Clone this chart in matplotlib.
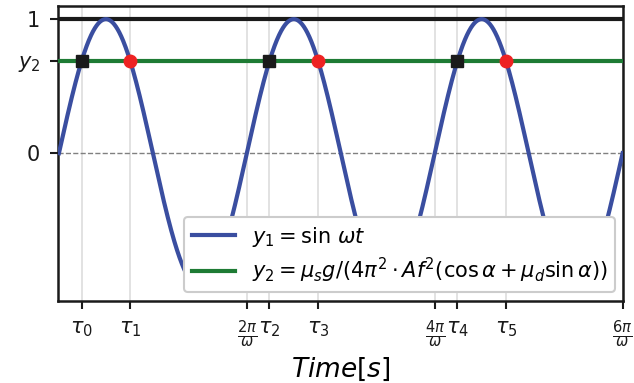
import numpy as np
import matplotlib
matplotlib.use("Agg")
import matplotlib.pyplot as plt

# level of the friction threshold y2 and the crossing phases
y2 = 0.687
tau_up = np.arcsin(y2)            # rising crossing in each period
tau_down = np.pi - np.arcsin(y2)  # falling crossing in each period
periods = [0, 1, 2]

xtick_labels = [r"$\tau_0$", r"$\tau_1$", r"$\frac{2\pi}{\omega}$", r"$\tau_2$", r"$\tau_3$",
                r"$\frac{4\pi}{\omega}$", r"$\tau_4$", r"$\tau_5$", r"$\frac{6\pi}{\omega}$"]

t = np.linspace(0, 6*np.pi, 2000)
y1 = np.sin(t)

fig, ax = plt.subplots(figsize=(6.34, 3.83), dpi=100)

taus_up = [tau_up + 2*np.pi*k for k in periods]
taus_down = [tau_down + 2*np.pi*k for k in periods]
xticks = [taus_up[0], taus_down[0], 2*np.pi, taus_up[1], taus_down[1],
          4*np.pi, taus_up[2], taus_down[2], 6*np.pi]

for xv in xticks:
    ax.axvline(xv, color="#dddddd", lw=1.2, zorder=0)
ax.axhline(0, color="gray", lw=1, ls="--", zorder=1)
ax.axhline(1, color="#1a1a1a", lw=3, zorder=2)

ax.plot(t, y1, color="#3a4ea0", lw=3, label=r"$y_1 = \sin\,\omega t$", zorder=3)
ax.axhline(y2, color="#1e7b34", lw=3,
           label=r"$y_2 = \mu_s g / (4\pi^2 \cdot Af^2(\cos\alpha + \mu_d \sin\alpha))$", zorder=3)

ax.plot(taus_up, [y2]*3, "s", color="#1a1a1a", ms=9, zorder=4)
ax.plot(taus_down, [y2]*3, "o", color="#ee2222", ms=9, zorder=4)

ax.set_xlim(0 - 0.02, 6*np.pi + 0.02)
ax.set_ylim(-1.1, 1.1)
ax.set_xticks(xticks)
ax.set_xticklabels(xtick_labels, fontsize=15)
ax.set_yticks([0, y2, 1])
ax.set_yticklabels(["0", r"$y_2$", "1"], fontsize=15)
ax.tick_params(direction="out", length=6, width=1.5, colors="#1a1a1a", pad=7)
for s in ax.spines.values():
    s.set_linewidth(1.8)
    s.set_color("#1a1a1a")

ax.set_xlabel(r"$Time[s]$", fontsize=19, labelpad=4)
leg = ax.legend(loc="lower right", fontsize=15, fancybox=True, framealpha=1,
                borderaxespad=0.4, handlelength=2.1, labelspacing=0.35, borderpad=0.35)
leg.get_frame().set_edgecolor("#cccccc")
leg.get_frame().set_linewidth(1.5)

fig.subplots_adjust(left=0.092, right=0.983, top=0.985, bottom=0.215)
fig.savefig("out.png")
